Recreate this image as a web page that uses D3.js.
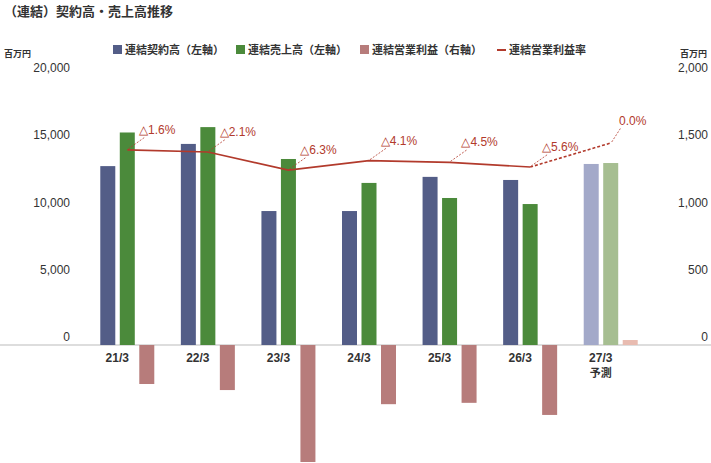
<!DOCTYPE html>
<html><head><meta charset="utf-8">
<script src="https://cdn.jsdelivr.net/npm/d3@7"></script>
<style>body{margin:0;background:#fff;font-family:"Noto Sans CJK JP","Noto Sans",sans-serif}</style>
</head><body><svg id="c" width="711" height="463"></svg>
<script>
const categories=["21/3","22/3","23/3","24/3","25/3","26/3","27/3"];
const contract=[13300,14950,9960,9960,12500,12270,13460];
const sales=[15800,16200,13830,12050,10930,10480,13530];
const profit=[-290,-335,-870,-440,-430,-520,37];
const rate=[-1.6,-2.1,-6.3,-4.1,-4.5,-5.6,0.0];
const rateLabels=["△1.6%","△2.1%","△6.3%","△4.1%","△4.5%","△5.6%","0.0%"];
const leftTicks=[0,5000,10000,15000,20000];
const rightTicks=[0,500,1000,1500,2000];

const svg=d3.select("#c");
const x=d3.scaleBand().domain(categories).range([87,651]);
const yL=d3.scaleLinear().domain([0,20000]).range([345,76]);
const yR=d3.scaleLinear().domain([0,2000]).range([345,76]);
const yRate=d3.scaleLinear().domain([-47,0]).range([345,143]);
const bw=15,gap=4.5;
const cx=c=>x(c)+x.bandwidth()/2;

svg.append("text").attr("x",4).attr("y",16).attr("font-size",13).attr("font-weight","bold").attr("fill","#333").text("（連結）契約高・売上高推移");
svg.append("text").attr("x",4).attr("y",57).attr("font-size",9).attr("font-weight","bold").attr("fill","#333").text("百万円");
svg.append("text").attr("x",680).attr("y",57).attr("font-size",9).attr("font-weight","bold").attr("fill","#333").text("百万円");

leftTicks.forEach(t=>svg.append("text").attr("x",70).attr("y",yL(t)-4).attr("text-anchor","end").attr("font-size",12).attr("fill","#333").attr("font-family","Liberation Sans,Arial").text(d3.format(",")(t)));
rightTicks.forEach(t=>svg.append("text").attr("x",708).attr("y",yR(t)-4).attr("text-anchor","end").attr("font-size",12).attr("fill","#333").attr("font-family","Liberation Sans,Arial").text(d3.format(",")(t)));

svg.append("line").attr("x1",0).attr("x2",711).attr("y1",yL(0)).attr("y2",yL(0)).attr("stroke","#bbb");

const last=categories.length-1;
const col=(i,a,b)=>i===last?b:a;
categories.forEach((c,i)=>{
  const m=cx(c);
  svg.append("rect").attr("x",m-bw*1.5-gap).attr("width",bw).attr("y",yL(contract[i])).attr("height",yL(0)-yL(contract[i])).attr("fill",col(i,"#535d87","#a3a9c9"));
  svg.append("rect").attr("x",m-bw/2).attr("width",bw).attr("y",yL(sales[i])).attr("height",yL(0)-yL(sales[i])).attr("fill",col(i,"#4b8a3b","#a6be91"));
  const p=profit[i];
  svg.append("rect").attr("x",m+bw/2+gap).attr("width",bw).attr("y",yR(Math.max(p,0))).attr("height",Math.abs(yR(p)-yR(0))).attr("fill",col(i,"#b77c7b","#e8bbb0"));
  const lbl=svg.append("text").attr("x",m-10).attr("y",362).attr("text-anchor","middle").attr("font-size",12).attr("font-weight","bold").attr("fill","#333").attr("font-family","Liberation Sans,Arial");
  lbl.text(c);
  if(i===last) svg.append("text").attr("x",m-10).attr("y",377).attr("text-anchor","middle").attr("font-size",11).attr("font-weight","bold").attr("fill","#333").text("予測");
});

const line=d3.line().x((d,i)=>cx(categories[i])).y(d=>yRate(d));
svg.append("path").attr("d",line(rate.slice(0,last))).attr("fill","none").attr("stroke","#b23a2c").attr("stroke-width",1.6);
svg.append("path").attr("d",d3.line().x(d=>cx(categories[d])).y(d=>yRate(rate[d]))([last-1,last])).attr("fill","none").attr("stroke","#b23a2c").attr("stroke-width",1.6).attr("stroke-dasharray","3,2");
rate.forEach((r,i)=>{
  const m=cx(categories[i]), y=yRate(r);
  const tx=m+(i===last?22:30), ty=y-(i===last?18:16);
  svg.append("line").attr("x1",m+1).attr("y1",y-1).attr("x2",tx-12).attr("y2",ty+3).attr("stroke","#b23a2c").attr("stroke-width",0.8).attr("stroke-dasharray","2,1.5");
  svg.append("text").attr("x",tx).attr("y",ty).attr("text-anchor","middle").attr("font-size",12).attr("fill","#b23a2c").attr("font-family","Liberation Sans,Arial").text(rateLabels[i]);
});

const leg=[["連結契約高（左軸）","#535d87","r",113],["連結売上高（左軸）","#4b8a3b","r",236],["連結営業利益（右軸）","#b77c7b","r",360],["連結営業利益率","#b23a2c","l",497]];
leg.forEach(([t,c,k,lx])=>{
  if(k==="r") svg.append("rect").attr("x",lx).attr("y",45).attr("width",9).attr("height",9).attr("fill",c);
  else svg.append("line").attr("x1",lx).attr("x2",lx+9).attr("y1",50).attr("y2",50).attr("stroke",c).attr("stroke-width",2);
  svg.append("text").attr("x",lx+12).attr("y",54).attr("font-size",11).attr("font-weight","bold").attr("fill","#333").text(t);
});
</script></body></html>
